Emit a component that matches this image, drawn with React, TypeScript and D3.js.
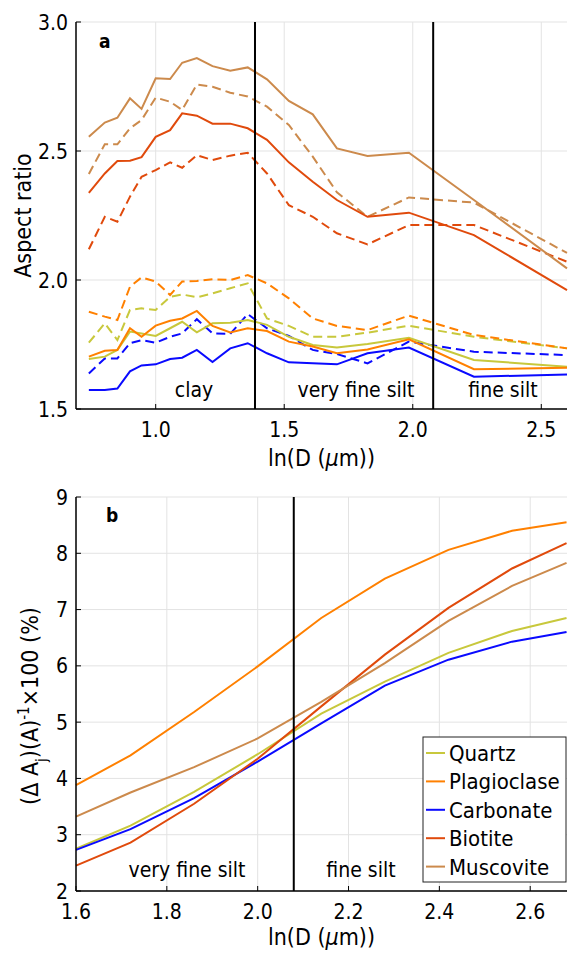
import React from "react";
import * as d3 from "d3";

// panel a: ln(D) sample positions and aspect ratios (solid / dashed per mineral)
const sizeA = [0.74, 0.802, 0.851, 0.9, 0.945, 1.0, 1.056, 1.103, 1.16, 1.221, 1.29, 1.358, 1.433, 1.518, 1.611, 1.705, 1.824, 1.985, 2.238, 2.6];
const quartzSolid = [1.694, 1.703, 1.729, 1.8, 1.793, 1.783, 1.813, 1.838, 1.797, 1.832, 1.834, 1.845, 1.826, 1.78, 1.748, 1.738, 1.752, 1.776, 1.69, 1.664];
const quartzDashed = [1.757, 1.832, 1.767, 1.884, 1.89, 1.884, 1.935, 1.944, 1.933, 1.948, 1.968, 1.987, 1.851, 1.822, 1.78, 1.78, 1.796, 1.823, 1.78, 1.735];
const plagSolid = [1.703, 1.726, 1.729, 1.813, 1.78, 1.823, 1.842, 1.851, 1.88, 1.822, 1.797, 1.813, 1.802, 1.761, 1.742, 1.716, 1.731, 1.77, 1.654, 1.66];
const plagDashed = [1.877, 1.858, 1.845, 1.974, 2.01, 1.994, 1.942, 1.994, 1.996, 2.003, 2.0, 2.019, 1.987, 1.929, 1.851, 1.822, 1.806, 1.862, 1.787, 1.735];
const carbSolid = [1.574, 1.574, 1.579, 1.646, 1.669, 1.673, 1.694, 1.699, 1.729, 1.682, 1.735, 1.755, 1.716, 1.681, 1.677, 1.673, 1.716, 1.738, 1.625, 1.634];
const carbDashed = [1.638, 1.696, 1.696, 1.755, 1.767, 1.757, 1.78, 1.793, 1.848, 1.793, 1.791, 1.868, 1.813, 1.783, 1.729, 1.713, 1.677, 1.761, 1.722, 1.709];
const biotSolid = [2.338, 2.413, 2.461, 2.462, 2.476, 2.555, 2.581, 2.646, 2.637, 2.606, 2.606, 2.588, 2.543, 2.456, 2.381, 2.31, 2.245, 2.261, 2.174, 1.961];
const biotDashed = [2.119, 2.245, 2.226, 2.323, 2.4, 2.426, 2.456, 2.435, 2.484, 2.465, 2.482, 2.493, 2.413, 2.29, 2.245, 2.181, 2.138, 2.213, 2.213, 2.071];
const muscSolid = [2.555, 2.61, 2.629, 2.704, 2.663, 2.782, 2.779, 2.842, 2.86, 2.829, 2.811, 2.824, 2.778, 2.694, 2.642, 2.51, 2.481, 2.493, 2.31, 2.045];
const muscDashed = [2.411, 2.526, 2.526, 2.588, 2.62, 2.707, 2.691, 2.659, 2.758, 2.749, 2.726, 2.711, 2.672, 2.601, 2.478, 2.34, 2.245, 2.32, 2.3, 2.105];

// panel b: cumulative area fraction
const sizeB = [1.6, 1.72, 1.86, 2.0, 2.14, 2.28, 2.42, 2.56, 2.68];
const quartzB = [2.75, 3.16, 3.76, 4.43, 5.15, 5.72, 6.23, 6.62, 6.85];
const plagB = [3.88, 4.41, 5.18, 5.99, 6.85, 7.55, 8.06, 8.4, 8.55];
const carbB = [2.73, 3.1, 3.65, 4.3, 4.98, 5.65, 6.11, 6.43, 6.6];
const biotB = [2.45, 2.86, 3.55, 4.35, 5.28, 6.2, 7.03, 7.73, 8.18];
const muscB = [3.32, 3.75, 4.2, 4.71, 5.36, 6.05, 6.8, 7.42, 7.83];

const minerals = ["Quartz", "Plagioclase", "Carbonate", "Biotite", "Muscovite"];
const colors = ["#c8c83c", "#ff8000", "#0a0aff", "#e04a0c", "#cc8a4c"];

const ticksA_x = [1.0, 1.5, 2.0, 2.5];
const ticksA_y = [1.5, 2.0, 2.5, 3.0];
const ticksB_x = [1.6, 1.8, 2.0, 2.2, 2.4, 2.6];
const ticksB_y = [2, 3, 4, 5, 6, 7, 8, 9];
const bounds = [Math.log(4), Math.log(8)];

const FONT = "'DejaVu Sans Condensed', 'DejaVu Sans', sans-serif";
const GRID = "#e3e3e3";

const Grid = ({ x, y, xt, yt }) => {
  const [x0, x1] = x.range();
  const [y0, y1] = y.range();
  return (
    <g>
      {xt.map((t) => (
        <line key={"gx" + t} x1={x(t)} x2={x(t)} y1={y0} y2={y1} stroke={GRID} />
      ))}
      {yt.map((t) => (
        <line key={"gy" + t} x1={x0} x2={x1} y1={y(t)} y2={y(t)} stroke={GRID} />
      ))}
    </g>
  );
};

const Frame = ({ x, y, xt, yt, fmtX, fmtY }) => {
  const [x0, x1] = x.range();
  const [y0, y1] = y.range();
  return (
    <g fontFamily={FONT} fill="#000">
      <line x1={x0} x2={x1} y1={y0} y2={y0} stroke="#000" strokeWidth={1.5} />
      <line x1={x0} x2={x0} y1={y0} y2={y1} stroke="#000" strokeWidth={1.5} />
      {xt.map((t) => (
        <g key={"tx" + t}>
          <line x1={x(t)} x2={x(t)} y1={y0} y2={y0 - 5} stroke="#000" />
          <text x={x(t)} y={y0 + 28} textAnchor="middle" fontSize={21}>{fmtX(t)}</text>
        </g>
      ))}
      {yt.map((t) => (
        <g key={"ty" + t}>
          <line x1={x0} x2={x0 + 5} y1={y(t)} y2={y(t)} stroke="#000" />
          <text x={x0 - 8} y={y(t)} dy="0.36em" textAnchor="end" fontSize={21}>{fmtY(t)}</text>
        </g>
      ))}
    </g>
  );
};

export default function App() {
  const xA = d3.scaleLinear().domain([0.69, 2.6]).range([76, 567]);
  const yA = d3.scaleLinear().domain([1.5, 3.0]).range([409, 22]);
  const xB = d3.scaleLinear().domain([1.6, 2.681]).range([76, 567]);
  const yB = d3.scaleLinear().domain([2, 9]).range([891, 497]);

  const lineA = d3.line<number>().x((_, i) => xA(sizeA[i])).y((v) => yA(v));
  const lineB = d3.line<number>().x((_, i) => xB(sizeB[i])).y((v) => yB(v));

  const solidA = [quartzSolid, plagSolid, carbSolid, biotSolid, muscSolid];
  const dashedA = [quartzDashed, plagDashed, carbDashed, biotDashed, muscDashed];
  const seriesB = [quartzB, plagB, carbB, biotB, muscB];

  const legX = 423, legY = 737, legW = 143, legH = 145, legStep = 28.4;

  return (
    <svg width={573} height={953} style={{ position: "absolute", left: 0, top: 0, background: "#fff" }}>
      {/* panel a */}
      <Grid x={xA} y={yA} xt={ticksA_x} yt={ticksA_y} />
      {dashedA.map((s, i) => (
        <path key={"da" + i} d={lineA(s)} fill="none" stroke={colors[i]} strokeWidth={2} strokeDasharray="9,5" />
      ))}
      {solidA.map((s, i) => (
        <path key={"sa" + i} d={lineA(s)} fill="none" stroke={colors[i]} strokeWidth={2} />
      ))}
      {bounds.map((b) => (
        <line key={"va" + b} x1={xA(b)} x2={xA(b)} y1={22} y2={409} stroke="#000" strokeWidth={2} />
      ))}
      <Frame x={xA} y={yA} xt={ticksA_x} yt={ticksA_y} fmtX={(t) => t.toFixed(1)} fmtY={(t) => t.toFixed(1)} />
      <g fontFamily={FONT} fontSize={21}>
        <text x={194} y={397} textAnchor="middle">clay</text>
        <text x={356} y={397} textAnchor="middle">very fine silt</text>
        <text x={503} y={397} textAnchor="middle">fine silt</text>
        <text x={99} y={48} fontWeight="bold" fontSize={19}>a</text>
        <text x={321.5} y={466} textAnchor="middle" fontSize={23}>
          ln(D (<tspan fontStyle="italic">μ</tspan>m))
        </text>
        <text transform="translate(31,215.5) rotate(-90)" textAnchor="middle" fontSize={23}>Aspect ratio</text>
      </g>

      {/* panel b */}
      <Grid x={xB} y={yB} xt={ticksB_x} yt={ticksB_y} />
      {seriesB.map((s, i) => (
        <path key={"sb" + i} d={lineB(s)} fill="none" stroke={colors[i]} strokeWidth={2} />
      ))}
      <line x1={xB(bounds[1])} x2={xB(bounds[1])} y1={497} y2={891} stroke="#000" strokeWidth={2} />
      <Frame x={xB} y={yB} xt={ticksB_x} yt={ticksB_y} fmtX={(t) => t.toFixed(1)} fmtY={(t) => String(t)} />
      <g fontFamily={FONT} fontSize={21}>
        <text x={187} y={877} textAnchor="middle">very fine silt</text>
        <text x={361} y={877} textAnchor="middle">fine silt</text>
        <text x={106} y={522} fontWeight="bold" fontSize={19}>b</text>
        <text x={321.5} y={945} textAnchor="middle" fontSize={23}>
          ln(D (<tspan fontStyle="italic">μ</tspan>m))
        </text>
        <text transform="translate(38,706) rotate(-90)" textAnchor="middle" fontSize={23}>
          (Δ A<tspan baselineShift="sub" fontSize={15}>j</tspan>)(A)<tspan baselineShift="super" fontSize={15}>-1</tspan>×100 (%)
        </text>
      </g>

      {/* legend */}
      <rect x={legX} y={legY} width={legW} height={legH} fill="#fff" stroke="#222" strokeWidth={1} />
      {minerals.map((m, i) => (
        <g key={m}>
          <line x1={legX + 3} x2={legX + 22} y1={legY + 16 + i * legStep} y2={legY + 16 + i * legStep} stroke={colors[i]} strokeWidth={2} />
          <text x={legX + 26} y={legY + 16 + i * legStep} dy="0.36em" fontFamily={FONT} fontSize={22}>{m}</text>
        </g>
      ))}
    </svg>
  );
}
